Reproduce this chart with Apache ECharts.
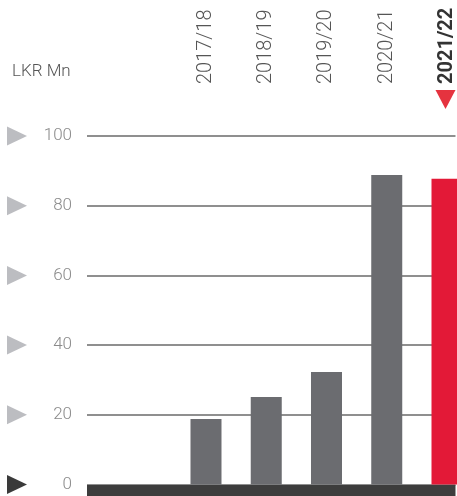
<!DOCTYPE html>
<html>
<head>
<meta charset="utf-8">
<script src="https://cdn.jsdelivr.net/npm/echarts@6/dist/echarts.min.js"></script>
<style>
  html, body { margin: 0; padding: 0; background: #ffffff; }
  #chart { width: 457px; height: 496px; }
</style>
</head>
<body>
<div id="chart"></div>
<script>
// Financial years shown on the top axis
const categories = ['2017/18', '2018/19', '2019/20', '2020/21', '2021/22'];
// Amounts in LKR Mn
const values = [18.8, 25.1, 32.3, 88.8, 87.7];
// Value-axis ticks
const yTicks = [0, 20, 40, 60, 80, 100];
const unitLabel = 'LKR Mn';

const FONT = 'Roboto, "Noto Sans", sans-serif';
const GREY_BAR = '#6b6c70';
const RED = '#e31937';
const lastIdx = categories.length - 1;

const chart = echarts.init(document.getElementById('chart'), null, { renderer: 'canvas' });

const barData = values.map((v, i) => ({
  value: [i, v],
  itemStyle: { color: i === lastIdx ? RED : GREY_BAR }
}));

const xMin = -1.975, xMax = 4.141;

chart.setOption({
  animation: false,
  title: {
    text: unitLabel,
    left: 7,
    top: 58,
    textStyle: { fontFamily: FONT, fontSize: 17, fontWeight: 300, color: '#555555' }
  },
  grid: { left: 87, right: 0, top: 136, bottom: 11.5, containLabel: false },
  xAxis: [
    {
      type: 'value',
      position: 'top',
      min: xMin,
      max: xMax,
      axisLine: { show: false },
      axisTick: { show: false },
      splitLine: { show: false },
      axisLabel: {
        customValues: categories.map((c, i) => i),
        rotate: 90,
        margin: 52,
        formatter: v => {
          const name = categories[Math.round(v)];
          return Math.round(v) === lastIdx ? '{b|' + name + '}' : '{n|' + name + '}';
        },
        rich: {
          n: { fontFamily: FONT, fontSize: 20, fontWeight: 300, color: '#555555' },
          b: { fontFamily: FONT, fontSize: 20, fontWeight: 'bold', color: '#333333' }
        }
      }
    },
    {
      // heavy baseline under the bars
      type: 'value',
      position: 'bottom',
      min: xMin,
      max: xMax,
      offset: 6,
      axisLine: { show: true, lineStyle: { color: '#3d3d3d', width: 12, cap: 'butt' } },
      axisTick: { show: false },
      axisLabel: { show: false },
      splitLine: { show: false }
    }
  ],
  yAxis: {
    type: 'value',
    min: yTicks[0],
    max: yTicks[yTicks.length - 1],
    interval: 20,
    axisLine: { show: false },
    axisTick: { show: false },
    axisLabel: {
      margin: 15,
      fontFamily: FONT,
      fontSize: 17,
      fontWeight: 300,
      color: '#8a8a8a'
    },
    splitLine: { lineStyle: { color: '#6a6a6a', width: 1.5 } }
  },
  series: [{
    type: 'bar',
    xAxisIndex: 0,
    barWidth: 31,
    data: barData
  }]
});

// Triangle markers beside the value ticks and under the current year
function addMarkers() {
  const elements = yTicks.map(t => {
    const y = chart.convertToPixel({ yAxisIndex: 0 }, t);
    return {
      type: 'polygon',
      shape: { points: [[7, y - 9.5], [27, y], [7, y + 9.5]] },
      style: { fill: t === 0 ? '#3a3a3a' : '#bcbdc1' },
      silent: true
    };
  });
  const cx = chart.convertToPixel({ xAxisIndex: 0 }, lastIdx) - 1.5;
  elements.push({
    type: 'polygon',
    shape: { points: [[cx - 10, 90], [cx + 10, 90], [cx, 109]] },
    style: { fill: '#e5333f' },
    silent: true
  });
  chart.setOption({ graphic: { elements } });
}
addMarkers();
</script>
</body>
</html>
